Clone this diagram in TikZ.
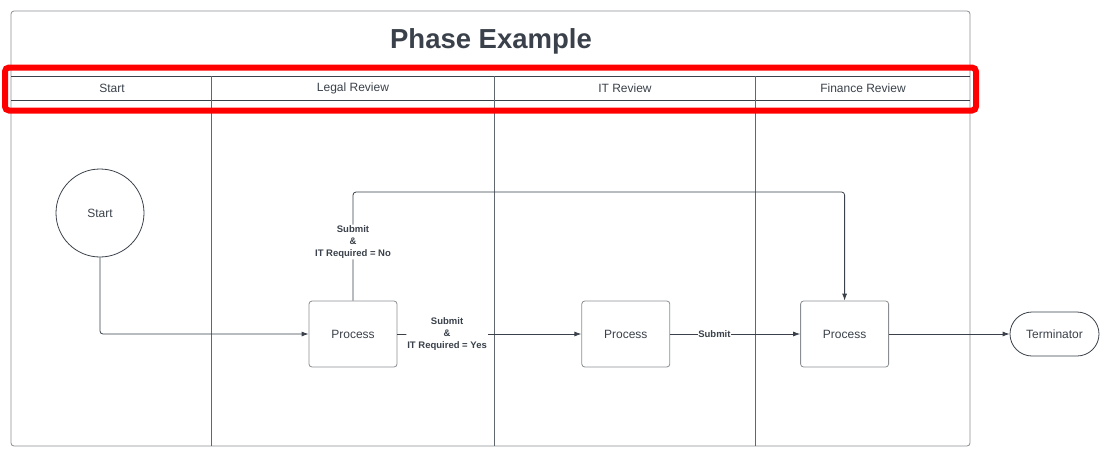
\documentclass[tikz,border=0pt]{standalone}
\usepackage{fontspec}
\setmainfont{Liberation Sans}
\usetikzlibrary{arrows.meta,positioning,calc}
\definecolor{ink}{HTML}{3A414A}
\definecolor{frame}{HTML}{8A8D91}
\definecolor{hl}{HTML}{FF0000}

\begin{document}
\begin{tikzpicture}[x=1pt, y=-1pt, >={Latex[length=7pt,width=5pt]}, line width=0.8pt,
    every node/.style={font=\fontsize{12}{14}\selectfont, text=ink},
    proc/.style={draw=frame, rounded corners=3pt, minimum width=88pt, minimum height=66pt, inner sep=0pt},
    term/.style={draw=ink, rounded corners=22pt, minimum width=89pt, minimum height=44pt, inner sep=0pt},
    lbl/.style={fill=white, font=\fontsize{9.5}{12}\selectfont\bfseries, align=center, inner sep=1pt},
    link/.style={->, draw=ink, rounded corners=3pt}]
    \useasboundingbox (0,0) rectangle (1108,464);

    % frame and lanes
    \draw[frame, rounded corners=3pt] (11,11) rectangle (970,446);
    \draw[ink] (11,76) -- (970,76) (11,100) -- (970,100);
    \foreach \x in {211,494,755}
        \draw[ink!80] (\x,76) -- (\x,446);

    \node[font=\fontsize{27.5}{30}\selectfont\bfseries] (title) at (491,41) {Phase Example};
    \node (hstart) at (112,88) {Start};
    \node (hlegal) at (353,88) {Legal Review};
    \node (hit)    at (625,88) {IT Review};
    \node (hfin)   at (863,88) {Finance Review};

    \draw[hl, line width=6pt, rounded corners=4pt] (5,67.5) rectangle (976,110.5);

    % shapes
    \node[circle, draw=ink, minimum size=88pt, inner sep=0pt] (start) at (100,213) {Start};
    \node[proc]  (p1)   at (353,334) {Process};
    \node[proc]  (p2)   [right=184pt of p1] {Process};
    \node[proc]  (p3)   [right=130pt of p2] {Process};
    \node[term]  (term) at (1054.5,334) {Terminator};
    \coordinate (turn) at (353,192);

    % connectors
    \draw[link] (start.south) |- (p1.west);
    \draw[link] (p1.north) -- node[lbl, pos=0.54] {Submit\\\&\\IT Required = No} (turn) -| (p3.north);
    \draw[link] (p1.east) -- node[lbl, pos=0.27] {Submit\\\&\\IT Required = Yes} (p2.west);
    \draw[link] (p2.east) -- node[lbl, pos=0.34, inner sep=0.3pt] {Submit} (p3.west);
    \draw[link] (p3.east) -- (term.west);
\end{tikzpicture}
\end{document}
